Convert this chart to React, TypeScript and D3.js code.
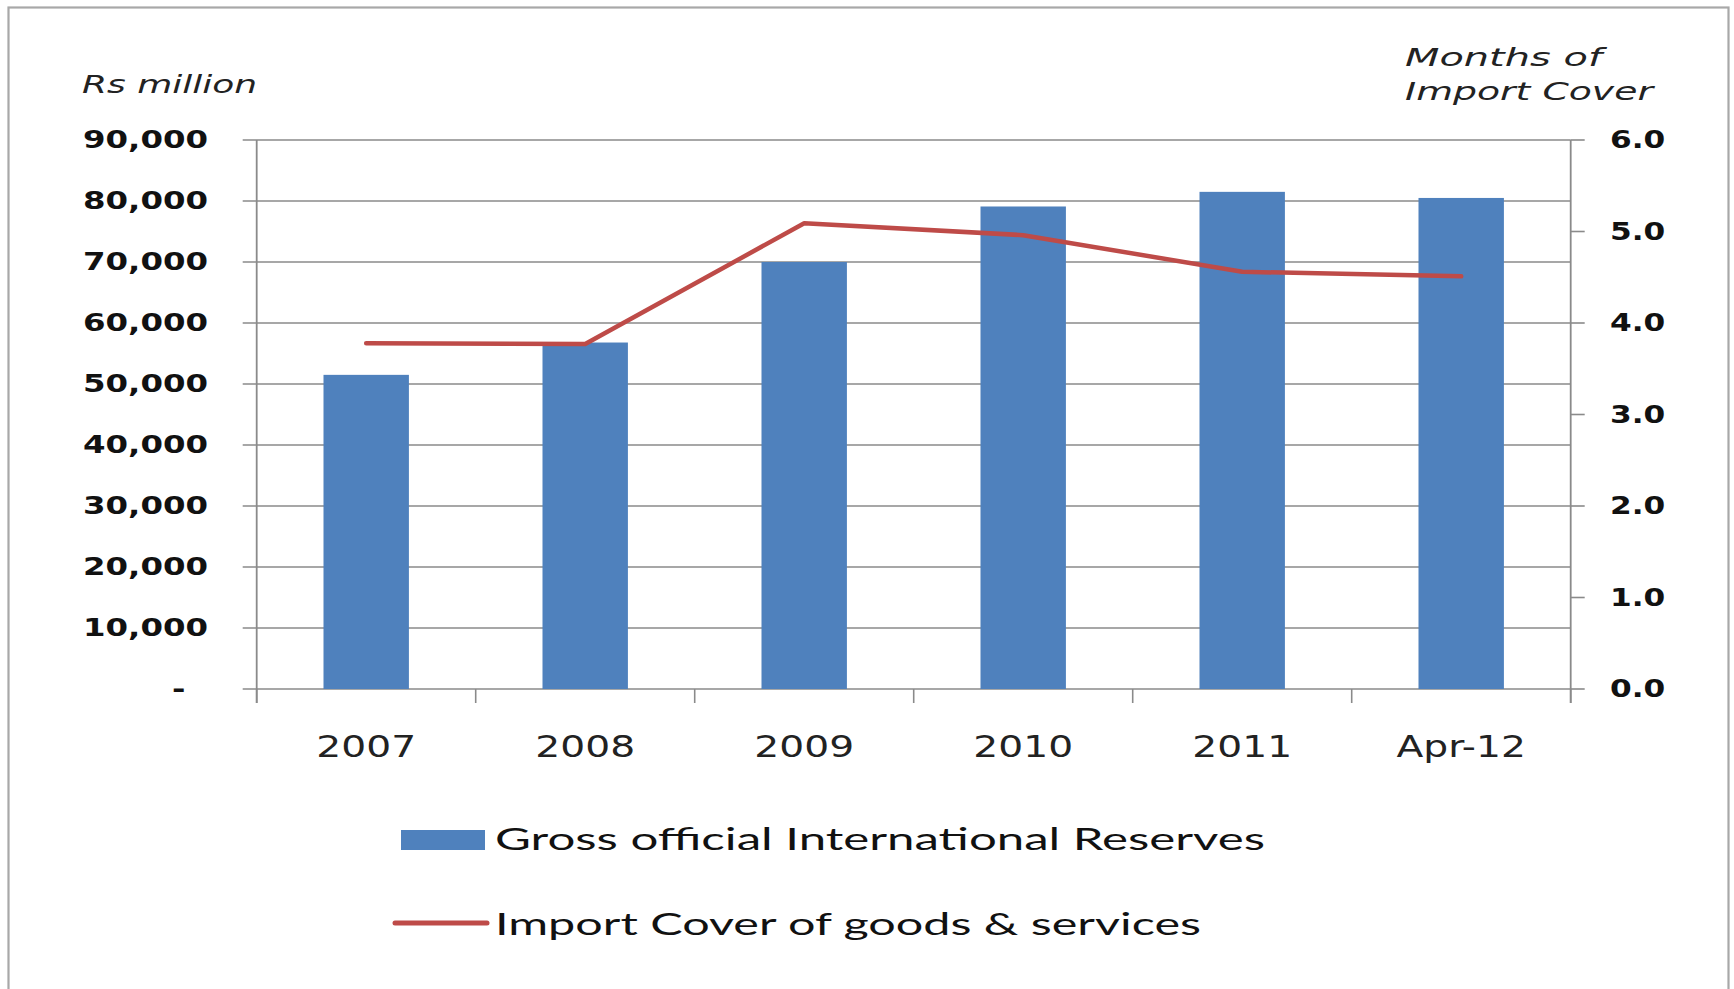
import React from 'react';
import * as d3 from 'd3';

const categories = ['2007', '2008', '2009', '2010', '2011', 'Apr-12'];
const reserves = [51500, 56800, 70000, 79100, 81500, 80500];
const importCover = [3.78, 3.77, 5.09, 4.96, 4.56, 4.51];
const leftTicks = [0, 10000, 20000, 30000, 40000, 50000, 60000, 70000, 80000, 90000];
const rightTicks = [0, 1, 2, 3, 4, 5, 6];
const legendLabels = ['Gross official International Reserves', 'Import Cover of goods & services'];
const leftTitle = 'Rs million';
const rightTitle = ['Months of', 'Import Cover'];

const W = 1734;
const H = 989;
const plot = { left: 256.7, right: 1570.7, top: 140, bottom: 689 };
const barColor = '#4F81BD';
const lineColor = '#BE4B48';
const gridColor = '#8a8a8a';

function SText(props: {
  x: number; y: number; sx: number; anchor?: string; size: number; weight?: string | number;
  family: string; italic?: boolean; fill?: string; children: React.ReactNode; len?: number;
}) {
  const { x, y, sx, anchor = 'start', size, weight = 'normal', family, italic, fill = '#111', children, len } = props;
  return (
    <g transform={`translate(${x},${y}) scale(${sx},1)`}>
      <text
        textAnchor={anchor as any}
        fontSize={size}
        fontWeight={weight as any}
        fontFamily={family}
        fontStyle={italic ? 'italic' : 'normal'}
        fill={fill}
        style={{ whiteSpace: 'pre' }}
        textLength={len ? len / sx : undefined}
        lengthAdjust={len ? 'spacingAndGlyphs' : undefined}
      >
        {children}
      </text>
    </g>
  );
}

export default function App() {
  const x = d3.scaleBand<string>().domain(categories).range([plot.left, plot.right]).padding(0);
  const bw = x.bandwidth();
  const yL = d3.scaleLinear().domain([0, 90000]).range([plot.bottom, plot.top]);
  const yR = d3.scaleLinear().domain([0, 6]).range([plot.bottom, plot.top]);
  const fmtL = (v: number) => (v === 0 ? '-\u00A0\u00A0' : d3.format(',')(v));
  const fmtR = d3.format('.1f');
  const barW = bw * 0.39;

  const line = d3
    .line<number>()
    .x((_, i) => (x(categories[i]) as number) + bw / 2)
    .y((d) => yR(d));

  const xTicks = [...categories.map((c) => x(c) as number), plot.right];

  return (
    <svg
      width={W}
      height={H}
      style={{ position: 'absolute', left: 0, top: 0, background: '#fff' }}
    >
      <rect x={0} y={0} width={W} height={H} fill="#fff" />
      <rect x={8.5} y={7.5} width={1720} height={1000} fill="none" stroke="#a8a8a8" strokeWidth={2.2} />

      {/* gridlines */}
      {leftTicks.map((t) => (
        <line key={'g' + t} x1={plot.left - 14} x2={plot.right} y1={yL(t)} y2={yL(t)} stroke={gridColor} strokeWidth={1.6} />
      ))}
      {/* right ticks */}
      {rightTicks.map((t) => (
        <line key={'rt' + t} x1={plot.right} x2={plot.right + 14} y1={yR(t)} y2={yR(t)} stroke={gridColor} strokeWidth={1.6} />
      ))}
      {/* axes */}
      <line x1={plot.left} x2={plot.left} y1={plot.top} y2={plot.bottom + 14} stroke={gridColor} strokeWidth={1.8} />
      <line x1={plot.right} x2={plot.right} y1={plot.top} y2={plot.bottom + 14} stroke={gridColor} strokeWidth={1.8} />
      {xTicks.map((t, i) => (
        <line key={'xt' + i} x1={t} x2={t} y1={plot.bottom} y2={plot.bottom + 14} stroke={gridColor} strokeWidth={1.6} />
      ))}

      {/* bars */}
      {reserves.map((v, i) => (
        <rect
          key={'b' + i}
          x={(x(categories[i]) as number) + (bw - barW) / 2}
          y={yL(v)}
          width={barW}
          height={yL(0) - yL(v)}
          fill={barColor}
        />
      ))}

      {/* line */}
      <path d={line(importCover) || ''} fill="none" stroke={lineColor} strokeWidth={4.5} strokeLinejoin="round" strokeLinecap="round" />

      {/* left tick labels */}
      {leftTicks.map((t) => (
        <SText key={'ll' + t} x={208} y={yL(t) + 8} sx={1.35} anchor="end" size={24} weight="bold" family="'DejaVu Sans', Verdana, sans-serif">
          {fmtL(t)}
        </SText>
      ))}
      {/* right tick labels */}
      {rightTicks.map((t) => (
        <SText key={'rl' + t} x={1610} y={yR(t) + 8} sx={1.3} anchor="start" size={24} weight="bold" family="'DejaVu Sans', Verdana, sans-serif">
          {fmtR(t)}
        </SText>
      ))}
      {/* category labels */}
      {categories.map((c) => (
        <SText key={'c' + c} x={(x(c) as number) + bw / 2} y={757} sx={1.33} anchor="middle" size={29.5} family="'DejaVu Sans', Verdana, sans-serif" fill="#222">
          {c}
        </SText>
      ))}

      {/* axis titles */}
      <SText x={82} y={93} sx={1} size={24} italic family="'DejaVu Sans', Verdana, sans-serif" fill="#222" len={175}>
        {leftTitle}
      </SText>
      <SText x={1405} y={65.5} sx={1} size={25} italic family="'DejaVu Sans', Verdana, sans-serif" fill="#222" len={197}>
        {rightTitle[0]}
      </SText>
      <SText x={1405} y={100} sx={1} size={25} italic family="'DejaVu Sans', Verdana, sans-serif" fill="#222" len={248}>
        {rightTitle[1]}
      </SText>

      {/* legend */}
      <rect x={401} y={830} width={84} height={20} fill={barColor} />
      <SText x={495} y={850} sx={1} size={30} family="Lato, 'Open Sans', sans-serif" fill="#111" len={770}>
        {legendLabels[0]}
      </SText>
      <line x1={395} x2={487} y1={923} y2={923} stroke={lineColor} strokeWidth={5} strokeLinecap="round" />
      <SText x={495} y={935} sx={1} size={30} family="Lato, 'Open Sans', sans-serif" fill="#111" len={706}>
        {legendLabels[1]}
      </SText>
    </svg>
  );
}
